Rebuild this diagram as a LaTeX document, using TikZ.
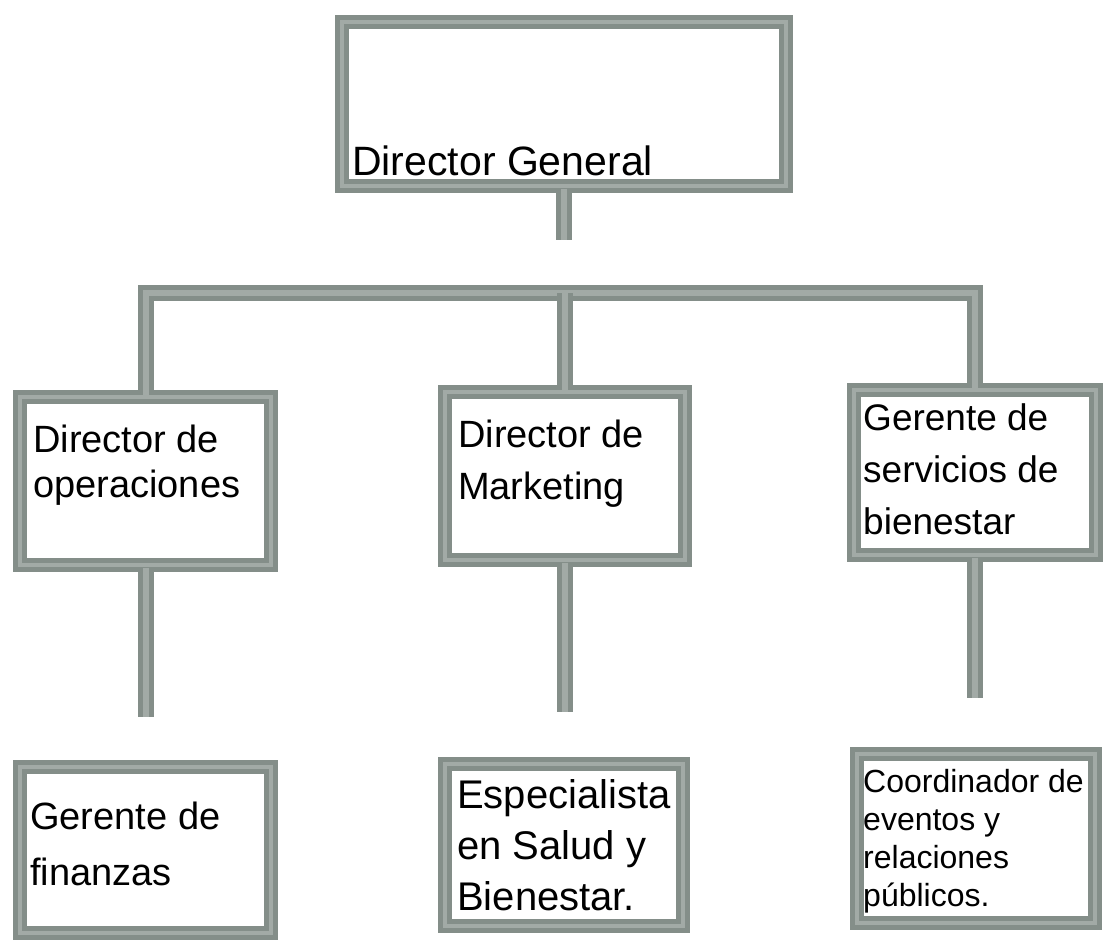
\documentclass[tikz,border=0pt]{standalone}
\usepackage{fontspec}
\setmainfont{Liberation Sans}
\definecolor{edge}{RGB}{132,142,137}
\definecolor{core}{RGB}{162,170,166}
\begin{document}
\begin{tikzpicture}[x=1pt,y=-1pt,
  box/.style={rectangle, draw=edge, double=core, double distance=4pt, line width=5pt, inner sep=0pt, fill=white},
  conn/.style={draw=edge, double=core, double distance=6pt, line width=5pt},
  txt/.style={inner sep=0pt, align=left, anchor=north west, text=black}]
\fill[white] (0,0) rectangle (1107,940);
\useasboundingbox (0,0) rectangle (1107,940);

% boxes
\node[box, minimum width=444, minimum height=164] (b0) at (564,104) {};
\node[box, minimum width=251, minimum height=168] (b1) at (145.5,481) {};
\node[box, minimum width=240, minimum height=168] (b2) at (565,476) {};
\node[box, minimum width=242, minimum height=165] (b3) at (975,472.5) {};
\node[box, minimum width=251, minimum height=166] (c1) at (145.5,850) {};
\node[box, minimum width=238, minimum height=162] (c2) at (564,845) {};
\node[box, minimum width=238, minimum height=169] (c3) at (976,838.5) {};

% connectors
\coordinate (s0) at (564,240);
\coordinate (hl) at (145.5,293);
\coordinate (hr) at (975,293);
\coordinate (hm) at (565,293);
\coordinate (e1) at (145.5,717);
\coordinate (e2) at (565,712);
\coordinate (e3) at (975,698);
\draw[conn] (b0.south) -- (s0);
\draw[conn] (b1.north) -- (hl) -- (hr) -- (b3.north);
\draw[conn] (hm) -- (b2.north);
\draw[conn] (b1.south) -- (e1);
\draw[conn] (b2.south) -- (e2);
\draw[conn] (b3.south) -- (e3);

% texts
\node[txt, anchor=base west, font=\fontsize{41}{50}\selectfont] (t0) at (352,175) {Director General};
\node[txt, font=\fontsize{38}{45}\selectfont] (t1) at (33,425) {Director de\\operaciones};
\node[txt, font=\fontsize{38}{52}\selectfont] (t2) at (458,420) {Director de\\Marketing};
\node[txt, font=\fontsize{37}{52}\selectfont] (t3) at (863,403) {Gerente de\\servicios de\\bienestar};
\node[txt, font=\fontsize{38}{56}\selectfont] (u1) at (30,802) {Gerente de\\finanzas};
\node[txt, font=\fontsize{40}{51}\selectfont] (u2) at (457,779) {Especialista\\en Salud y\\Bienestar.};
\node[txt, font=\fontsize{32}{38}\selectfont] (u3) at (863,769) {Coordinador de\\eventos y\\relaciones\\públicos.};
\end{tikzpicture}
\end{document}
